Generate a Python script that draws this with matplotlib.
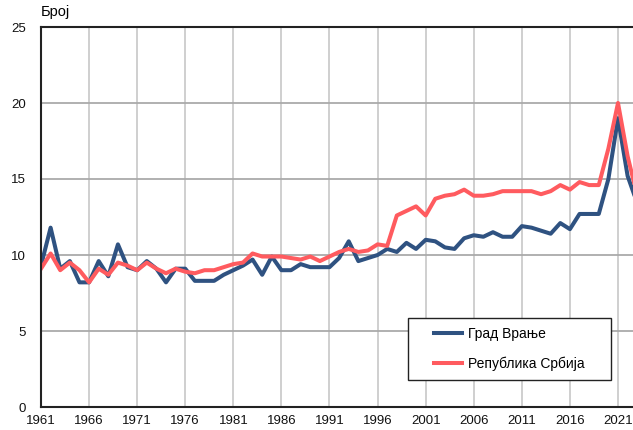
import numpy as np
import matplotlib.pyplot as plt
from matplotlib.patches import Rectangle

plt.rcParams['font.family'] = ['Liberation Sans', 'DejaVu Sans']

years = list(range(1961, 2024))

vranje = [9.3, 11.8, 9.1, 9.6, 8.2, 8.2, 9.6, 8.6, 10.7, 9.2,
          9.0, 9.6, 9.1, 8.2, 9.1, 9.1, 8.3, 8.3, 8.3, 8.7,
          9.0, 9.3, 9.7, 8.7, 9.9, 9.0, 9.0, 9.4, 9.2, 9.2,
          9.2, 9.8, 10.9, 9.6, 9.8, 10.0, 10.4, 10.2, 10.8, 10.4,
          11.0, 10.9, 10.5, 10.4, 11.1, 11.3, 11.2, 11.5, 11.2, 11.2,
          11.9, 11.8, 11.6, 11.4, 12.1, 11.7, 12.7, 12.7, 12.7, 15.0,
          19.0, 15.2, 13.4]

srbija = [9.1, 10.1, 9.0, 9.5, 9.0, 8.2, 9.1, 8.7, 9.5, 9.3,
          9.0, 9.5, 9.1, 8.8, 9.1, 8.9, 8.8, 9.0, 9.0, 9.2,
          9.4, 9.5, 10.1, 9.9, 9.9, 9.9, 9.8, 9.7, 9.9, 9.6,
          9.9, 10.2, 10.4, 10.2, 10.3, 10.7, 10.6, 12.6, 12.9, 13.2,
          12.6, 13.7, 13.9, 14.0, 14.3, 13.9, 13.9, 14.0, 14.2, 14.2,
          14.2, 14.2, 14.0, 14.2, 14.6, 14.3, 14.8, 14.6, 14.6, 17.0,
          20.0, 16.5, 13.9]

fig = plt.figure(figsize=(6.33, 4.30), dpi=100)
ax = fig.add_axes([41 / 633, 23 / 430, 1 - 41 / 633, 380 / 430])

ax.plot(years, vranje, color='#2f5281', lw=2.9, label='Град Врање')
ax.plot(years, srbija, color='#ff5b5f', lw=2.9, label='Република Србија')

ax.set_xlim(1961, 2022.56)
ax.set_ylim(0, 25)
ax.set_xticks(range(1961, 2022, 5))
ax.set_yticks(range(0, 26, 5))
ax.tick_params(length=0, labelsize=9.5, colors='#111111')
ax.tick_params(axis='y', pad=11)
ax.tick_params(axis='x', pad=6)

ax.grid(axis='x', color='#cccccc', lw=1.3)
ax.grid(axis='y', color='#aaaaaa', lw=1.3)
ax.set_axisbelow(True)

for s in ['left', 'bottom', 'top']:
    ax.spines[s].set_color('#222222')
    ax.spines[s].set_linewidth(1.5)
ax.spines['right'].set_visible(False)

fig.text(41 / 633, 1 - 12 / 430, 'Број', fontsize=10.5, va='center', ha='left')

# legend box drawn by hand, entries placed inside it
bx, by, bw, bh = (408 - 41) / 592, (407 - 380) / 380, 203 / 592, 62 / 380
ax.add_patch(Rectangle((bx, by), bw, bh, transform=ax.transAxes, facecolor='white',
                       edgecolor='#222222', lw=1.0, zorder=5))
leg = ax.legend(loc='center', bbox_to_anchor=(bx, by, bw, bh), frameon=False,
                fontsize=10, handlelength=2.0, labelspacing=1.15, borderpad=0,
                borderaxespad=0, handletextpad=0.45)
leg.set_zorder(6)

fig.savefig('out.png', dpi=100)
